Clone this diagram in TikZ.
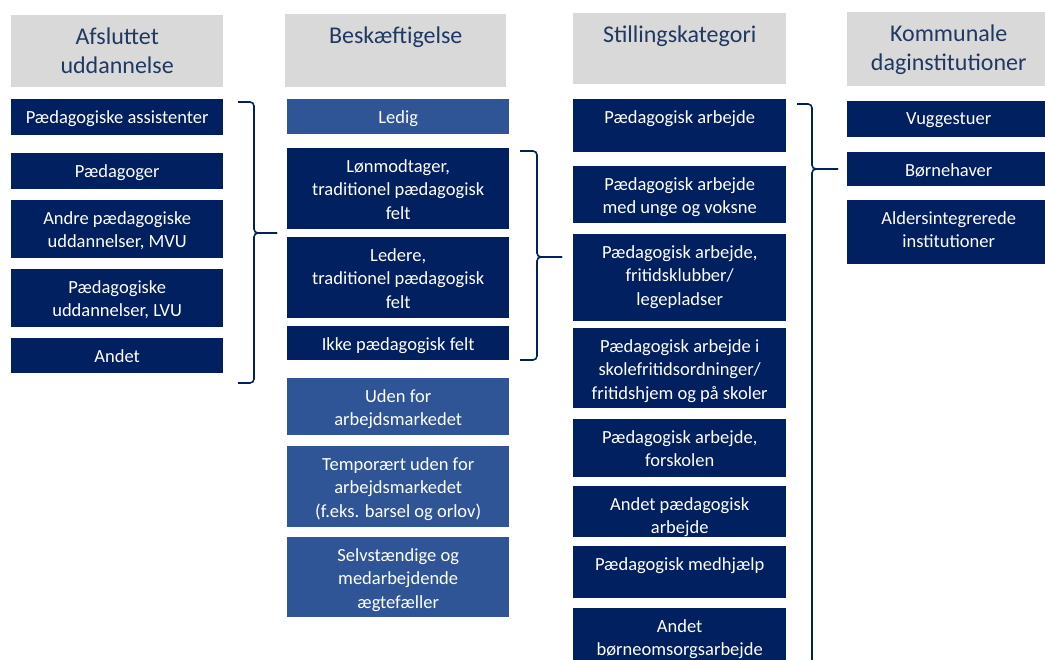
\documentclass[tikz,border=0pt]{standalone}
\usepackage{fontspec}
\setmainfont{Carlito}
\usepackage{tikz}
\definecolor{navy}{HTML}{002060}
\definecolor{midblue}{HTML}{2F5597}
\definecolor{hdrgray}{HTML}{D9D9D9}
\definecolor{hdrtext}{HTML}{1F3864}

\begin{document}
\begin{tikzpicture}[x=1pt,y=-1pt,
    hdr/.style={fill=hdrgray, anchor=north west, inner sep=0pt, minimum height=72},
    hdrlbl/.style={anchor=north, text=hdrtext, align=center, inner xsep=0pt, inner ysep=12.5pt,
        font=\fontsize{24}{29}\selectfont},
    navybox/.style={fill=navy, anchor=north west, inner sep=0pt},
    lightbox/.style={fill=midblue, anchor=north west, inner sep=0pt},
    boxlbl/.style={anchor=north, text=white, align=center, inner xsep=0pt, inner ysep=11pt,
        font=\fontsize{18.5}{23.5}\selectfont},
    brace/.style={draw=navy, line width=1.6pt, rounded corners=4pt}]

    \clip (0,0) rectangle (1045,660);

    %Column: Afsluttet uddannelse
    \node[hdr, minimum width=212, label={[hdrlbl]north:Afsluttet\\uddannelse}] (hdrA) at (11,15) {};
    \node[navybox, minimum width=212, minimum height=36, label={[boxlbl]north:Pædagogiske assistenter}] (assist) at (11,99) {};
    \node[navybox, minimum width=212, minimum height=36, label={[boxlbl]north:Pædagoger}] (paedagoger) at (11,153) {};
    \node[navybox, minimum width=212, minimum height=58, label={[boxlbl]north:Andre pædagogiske\\uddannelser, MVU}] (mvu) at (11,200) {};
    \node[navybox, minimum width=212, minimum height=58, label={[boxlbl]north:Pædagogiske\\uddannelser, LVU}] (lvu) at (11,269) {};
    \node[navybox, minimum width=212, minimum height=35, label={[boxlbl]north:Andet}] (andetA) at (11,338) {};

    %Column: Beskæftigelse
    \node[hdr, minimum width=221, minimum height=73, label={[hdrlbl]north:Beskæftigelse}] (hdrB) at (285,14) {};
    \node[lightbox, minimum width=222, minimum height=35, label={[boxlbl]north:Ledig}] (ledig) at (287,99) {};
    \node[navybox, minimum width=222, minimum height=81, label={[boxlbl]north:Lønmodtager,\\traditionel pædagogisk\\felt}] (lonmod) at (287,148) {};
    \node[navybox, minimum width=222, minimum height=81, label={[boxlbl]north:Ledere,\\traditionel pædagogisk\\felt}] (ledere) at (287,237) {};
    \node[navybox, minimum width=222, minimum height=34, label={[boxlbl]north:Ikke pædagogisk felt}] (ikke) at (287,326) {};
    \node[lightbox, minimum width=222, minimum height=57, label={[boxlbl]north:Uden for\\arbejdsmarkedet}] (uden) at (287,378) {};
    \node[lightbox, minimum width=222, minimum height=81, label={[boxlbl]north:Temporært uden for\\arbejdsmarkedet\\(f.eks. barsel og orlov)}] (temp) at (287,446) {};
    \node[lightbox, minimum width=222, minimum height=80, label={[boxlbl]north:Selvstændige og\\medarbejdende\\ægtefæller}] (selv) at (287,537) {};

    %Column: Stillingskategori
    \node[hdr, minimum width=213, minimum height=71, label={[hdrlbl]north:Stillingskategori}] (hdrC) at (573,13) {};
    \node[navybox, minimum width=213, minimum height=53, label={[boxlbl]north:Pædagogisk arbejde}] (arb) at (573,99) {};
    \node[navybox, minimum width=213, minimum height=57, label={[boxlbl]north:Pædagogisk arbejde\\med unge og voksne}] (unge) at (573,166) {};
    \node[navybox, minimum width=213, minimum height=87, label={[boxlbl]north:Pædagogisk arbejde,\\fritidsklubber/\\legepladser}] (klub) at (573,234) {};
    \node[navybox, minimum width=213, minimum height=80, label={[boxlbl]north:Pædagogisk arbejde i\\skolefritidsordninger/\\fritidshjem og på skoler}] (sfo) at (573,328) {};
    \node[navybox, minimum width=213, minimum height=58, label={[boxlbl]north:Pædagogisk arbejde,\\forskolen}] (forsk) at (573,419) {};
    \node[navybox, minimum width=213, minimum height=51, label={[boxlbl]north:Andet pædagogisk\\arbejde}] (andetarb) at (573,486) {};
    \node[navybox, minimum width=213, minimum height=52, label={[boxlbl]north:Pædagogisk medhjælp}] (medhj) at (573,546) {};
    \node[navybox, minimum width=213, minimum height=70, label={[boxlbl]north:Andet\\børneomsorgsarbejde}] (omsorg) at (573,608) {};

    %Column: Kommunale daginstitutioner
    \node[hdr, minimum width=203, minimum height=74, label={[hdrlbl]north:Kommunale\\daginstitutioner}] (hdrD) at (847,12) {};
    \node[navybox, minimum width=203, minimum height=36, label={[boxlbl]north:Vuggestuer}] (vugge) at (847,101) {};
    \node[navybox, minimum width=203, minimum height=34, label={[boxlbl]north:Børnehaver}] (born) at (847,152) {};
    \node[navybox, minimum width=203, minimum height=64, label={[boxlbl]north:Aldersintegrerede\\institutioner}] (alders) at (847,200) {};

    %Braces
    \draw[brace] (238,102) -| (254,233) -- (277,233);
    \draw[brace] (238,383) -| (254,233) -- (277,233);
    \draw[brace] (520,151) -| (537,257) -- (562,257);
    \draw[brace] (520,360) -| (537,257) -- (562,257);
    \draw[brace] (797,104) -| (812,169) -- (838,169);
    \draw[brace] (812,680) -- (812,169) -- (838,169);

\end{tikzpicture}
\end{document}
